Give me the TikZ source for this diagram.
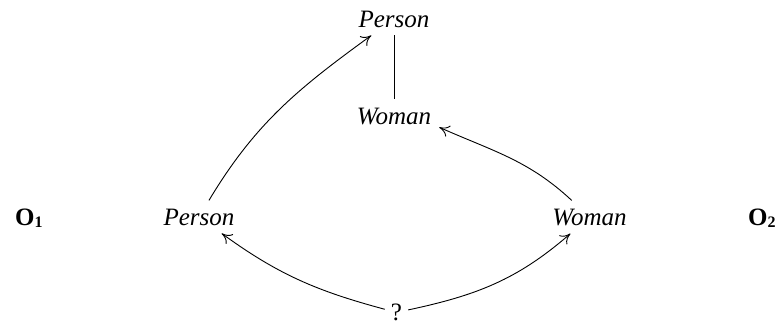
\documentclass[tikz,border=0pt]{standalone}
\usepackage{fontspec}
\setmainfont{Liberation Serif}
\usetikzlibrary{arrows.meta}
\newcommand{\osub}[1]{\textbf{O}\raisebox{-2.5pt}{\fontsize{16}{16}\selectfont\textbf{#1}}}
\begin{document}
\begin{tikzpicture}[x=1pt,y=1pt,
  lbl/.style={font=\fontsize{25}{30}\selectfont\itshape, inner sep=8pt, anchor=base},
  onto/.style={font=\fontsize{25}{30}\selectfont, inner sep=0pt, anchor=base west},
  conn/.style={line width=0.9pt, -{Computer Modern Rightarrow[length=10pt,width=12pt]}}]
\useasboundingbox (0,0) rectangle (777,325);
\node[lbl] (ptop) at (394,298) {Person};
\node[lbl] (wtop) at (394,201) {Woman};
\node[lbl] (pl) at (199,100) {Person};
\node[lbl] (wr) at (589.5,100) {Woman};
\node[lbl,font=\fontsize{25}{30}\selectfont,inner sep=6pt] (q) at (396.5,4.5) {?};
\node[onto] (o1) at (15,100) {\osub{1}};
\node[onto] (o2) at (748,100) {\osub{2}};
\draw[line width=0.9pt] (ptop) -- (wtop);
\draw[conn] (pl) to[out=59,in=216] (ptop);
\draw[conn] (wr) to[out=137,in=-24] (wtop.-14);
\draw[conn] (q) to[out=165,in=-36] (pl);
\draw[conn] (q) to[out=12,in=-139] (wr);
\end{tikzpicture}
\end{document}
